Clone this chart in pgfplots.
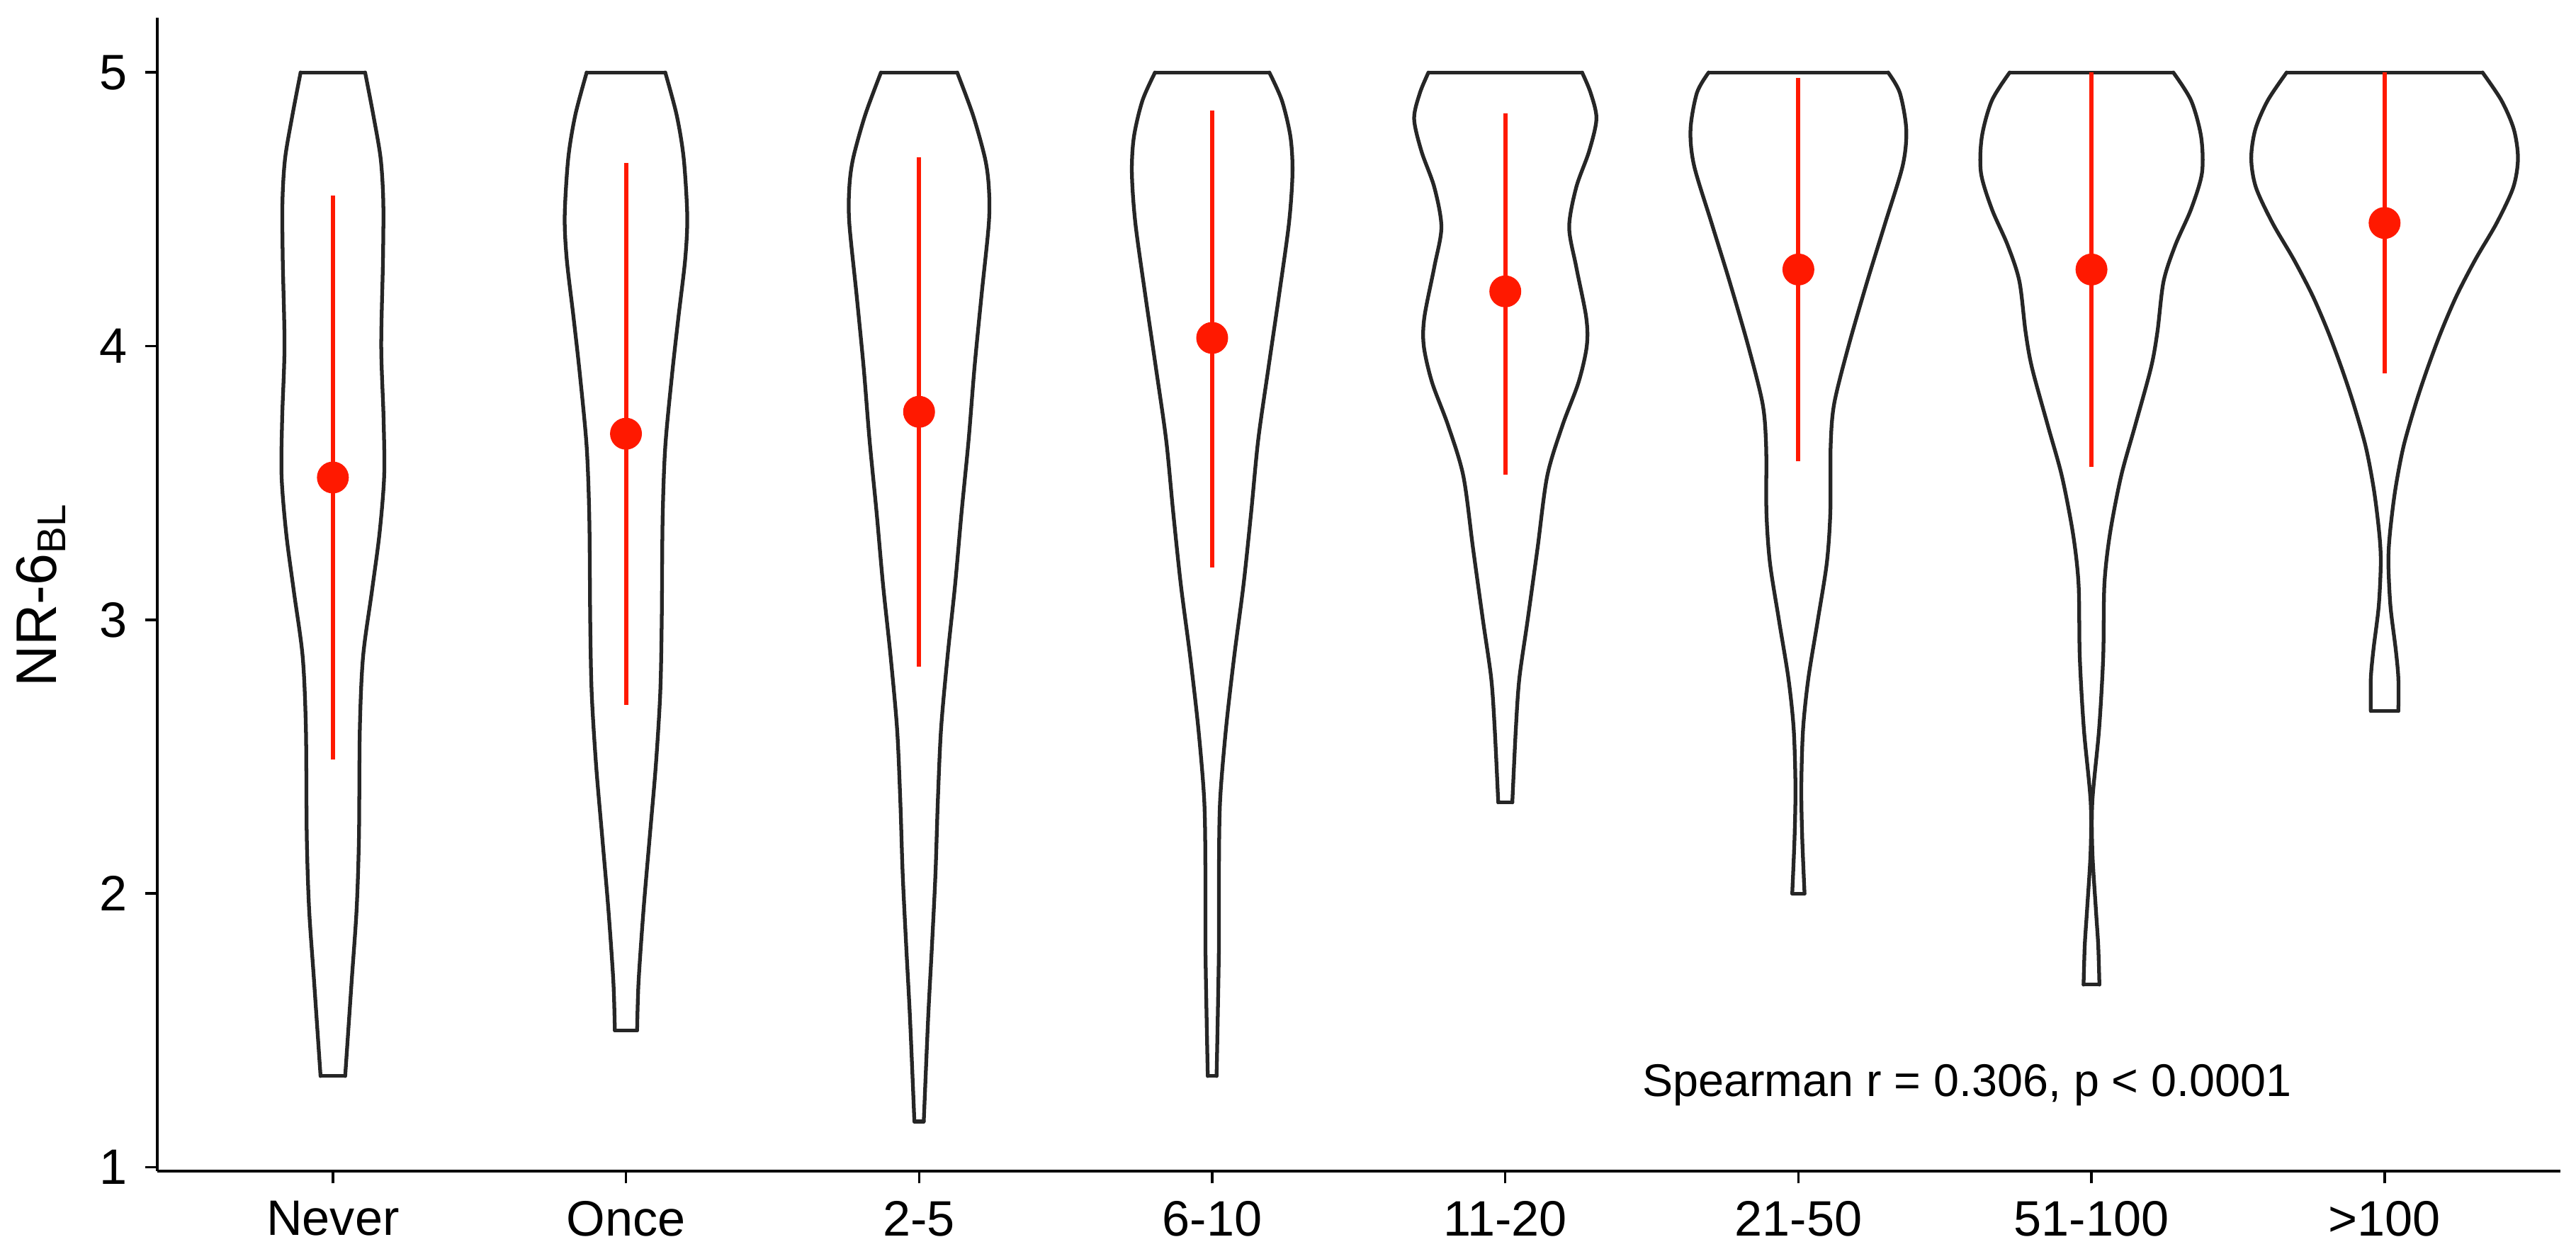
\documentclass[border=0pt]{standalone}
\usepackage{pgfplots}
\pgfplotsset{compat=1.18}
\usepackage{pgfplotstable}
\usepackage{fontspec}
\setmainfont{Liberation Sans}

\definecolor{meanred}{RGB}{255,25,0}

% violin outlines: right side bottom->top, then left side top->bottom, then back to start
\pgfplotstableread{
y dx
1.333 0.042
1.678 0.064
1.942 0.081
2.206 0.089
2.601 0.092
2.865 0.103
3.103 0.133
3.314 0.159
3.525 0.175
3.736 0.173
4.000 0.165
4.317 0.171
4.528 0.172
4.686 0.163
4.844 0.138
5.000 0.110
5.000 -0.110
4.844 -0.138
4.686 -0.163
4.528 -0.172
4.317 -0.171
4.000 -0.165
3.736 -0.173
3.525 -0.175
3.314 -0.159
3.103 -0.133
2.865 -0.103
2.601 -0.092
2.206 -0.089
1.942 -0.081
1.678 -0.064
1.333 -0.042
1.333 0.042
}\vA
\pgfplotstableread{
y dx
1.500 0.038
1.678 0.043
1.942 0.060
2.206 0.081
2.470 0.102
2.734 0.117
2.997 0.122
3.367 0.125
3.631 0.134
3.894 0.157
4.106 0.179
4.317 0.202
4.475 0.209
4.686 0.197
4.844 0.173
5.000 0.134
5.000 -0.134
4.844 -0.173
4.686 -0.197
4.475 -0.209
4.317 -0.202
4.106 -0.179
3.894 -0.157
3.631 -0.134
3.367 -0.125
2.997 -0.122
2.734 -0.117
2.470 -0.102
2.206 -0.081
1.942 -0.060
1.678 -0.043
1.500 -0.038
1.500 0.038
}\vB
\pgfplotstableread{
y dx
1.167 0.016
1.546 0.031
1.810 0.044
2.074 0.056
2.338 0.064
2.601 0.075
2.865 0.097
3.129 0.123
3.393 0.145
3.657 0.169
3.921 0.189
4.185 0.213
4.449 0.238
4.580 0.238
4.686 0.225
4.844 0.184
5.000 0.130
5.000 -0.130
4.844 -0.184
4.686 -0.225
4.580 -0.238
4.449 -0.238
4.185 -0.213
3.921 -0.189
3.657 -0.169
3.393 -0.145
3.129 -0.123
2.865 -0.097
2.601 -0.075
2.338 -0.064
2.074 -0.056
1.810 -0.044
1.546 -0.031
1.167 -0.016
1.167 0.016
}\vC
\pgfplotstableread{
y dx
1.333 0.015
1.546 0.019
1.810 0.023
2.074 0.023
2.338 0.027
2.601 0.047
2.865 0.075
3.129 0.107
3.393 0.133
3.657 0.157
3.921 0.192
4.185 0.228
4.449 0.262
4.633 0.274
4.765 0.267
4.897 0.238
5.000 0.195
5.000 -0.195
4.897 -0.238
4.765 -0.267
4.633 -0.274
4.449 -0.262
4.185 -0.228
3.921 -0.192
3.657 -0.157
3.393 -0.133
3.129 -0.107
2.865 -0.075
2.601 -0.047
2.338 -0.027
2.074 -0.023
1.810 -0.023
1.546 -0.019
1.333 -0.015
1.333 0.015
}\vD
\pgfplotstableread{
y dx
2.333 0.024
2.601 0.036
2.786 0.048
2.997 0.076
3.261 0.110
3.525 0.143
3.710 0.195
3.868 0.250
4.000 0.278
4.106 0.276
4.290 0.242
4.435 0.218
4.580 0.242
4.712 0.286
4.831 0.311
4.926 0.291
5.000 0.262
5.000 -0.262
4.926 -0.291
4.831 -0.311
4.712 -0.286
4.580 -0.242
4.435 -0.218
4.290 -0.242
4.106 -0.276
4.000 -0.278
3.868 -0.250
3.710 -0.195
3.525 -0.143
3.261 -0.110
2.997 -0.076
2.786 -0.048
2.601 -0.036
2.333 -0.024
2.333 0.024
}\vE
\pgfplotstableread{
y dx
2.000 0.021
2.206 0.013
2.391 0.010
2.601 0.016
2.786 0.034
2.997 0.066
3.208 0.097
3.393 0.109
3.631 0.110
3.789 0.122
4.000 0.171
4.237 0.235
4.449 0.296
4.660 0.356
4.792 0.368
4.926 0.346
5.000 0.306
5.000 -0.306
4.926 -0.346
4.792 -0.368
4.660 -0.356
4.449 -0.296
4.237 -0.235
4.000 -0.171
3.789 -0.122
3.631 -0.110
3.393 -0.109
3.208 -0.097
2.997 -0.066
2.786 -0.034
2.601 -0.016
2.391 -0.010
2.206 -0.013
2.000 -0.021
2.000 0.021
}\vF
\pgfplotstableread{
y dx
1.667 0.027
1.810 0.023
1.942 0.015
2.153 0.003
2.338 0.003
2.601 0.026
2.865 0.040
3.129 0.044
3.314 0.063
3.525 0.101
3.710 0.149
3.921 0.203
4.053 0.225
4.237 0.246
4.369 0.286
4.501 0.340
4.633 0.377
4.765 0.374
4.897 0.340
5.000 0.279
5.000 -0.279
4.897 -0.340
4.765 -0.374
4.633 -0.377
4.501 -0.340
4.369 -0.286
4.237 -0.246
4.053 -0.225
3.921 -0.203
3.710 -0.149
3.525 -0.101
3.314 -0.063
3.129 -0.044
2.865 -0.040
2.601 -0.026
2.338 -0.003
2.153 -0.003
1.942 -0.015
1.810 -0.023
1.667 -0.027
1.667 0.027
}\vG
\pgfplotstableread{
y dx
2.667 0.047
2.786 0.047
2.892 0.038
3.050 0.020
3.208 0.013
3.314 0.018
3.472 0.036
3.631 0.064
3.789 0.106
3.921 0.147
4.053 0.193
4.185 0.246
4.317 0.310
4.449 0.382
4.580 0.439
4.686 0.455
4.792 0.441
4.897 0.399
5.000 0.334
5.000 -0.334
4.897 -0.399
4.792 -0.441
4.686 -0.455
4.580 -0.439
4.449 -0.382
4.317 -0.310
4.185 -0.246
4.053 -0.193
3.921 -0.147
3.789 -0.106
3.631 -0.064
3.472 -0.036
3.314 -0.018
3.208 -0.013
3.050 -0.020
2.892 -0.038
2.786 -0.047
2.667 -0.047
2.667 0.047
}\vH

% mean and mean +/- sd
\pgfplotstableread{
x mean lo hi
1 3.52 2.49 4.55
2 3.68 2.69 4.67
3 3.76 2.83 4.69
4 4.03 3.19 4.86
5 4.20 3.53 4.85
6 4.28 3.58 4.98
7 4.28 3.56 5.00
8 4.45 3.90 5.00
}\means

% #1 centre, #2 table, #3 last right row, #4 first left row, #5 last left row, #6 closing row
\newcommand{\violin}[6]{%
  \addplot[vout, smooth, tension=0.5, restrict expr to domain={\coordindex}{0:#3}] table[x expr=#1+\thisrow{dx}, y=y] {#2};
  \addplot[vout, smooth, tension=0.5, restrict expr to domain={\coordindex}{#4:#5}] table[x expr=#1+\thisrow{dx}, y=y] {#2};
  \addplot[vout, restrict expr to domain={\coordindex}{#3:#4}] table[x expr=#1+\thisrow{dx}, y=y] {#2};
  \addplot[vout, restrict expr to domain={\coordindex}{#5:#6}] table[x expr=#1+\thisrow{dx}, y=y] {#2};
}

\begin{document}
\begin{tikzpicture}
\begin{axis}[
    scale only axis,
    width=16.97cm,
    height=8.145cm,
    xmin=0.4, xmax=8.6,
    ymin=0.985, ymax=5.2,
    axis x line*=bottom,
    axis y line*=left,
    axis line style={line width=0.6pt},
    xtick={1,...,8},
    xticklabels={Never,Once,2-5,6-10,11-20,21-50,51-100,>100},
    ytick={1,2,3,4,5},
    tick align=outside,
    major tick length=0.085cm,
    tick style={black, line width=0.5pt},
    ticklabel style={font=\fontsize{10}{12}\selectfont},
    /pgf/number format/assume math mode=true,
    ylabel={NR-6\textsubscript{BL}},
    ylabel style={font=\fontsize{11.5}{13}\selectfont},
    clip=false,
    unbounded coords=discard,
    vout/.style={black!85, line width=0.75pt, line join=round, line cap=round},
]
\violin{1}{\vA}{15}{16}{31}{32}
\violin{2}{\vB}{15}{16}{31}{32}
\violin{3}{\vC}{16}{17}{33}{34}
\violin{4}{\vD}{16}{17}{33}{34}
\violin{5}{\vE}{16}{17}{33}{34}
\violin{6}{\vF}{16}{17}{33}{34}
\violin{7}{\vG}{19}{20}{39}{40}
\violin{8}{\vH}{18}{19}{37}{38}

\addplot[only marks, mark=*, mark size=3pt, color=meanred,
    error bars/.cd, y dir=both, y explicit, error mark=none,
    error bar style={meanred, line width=0.85pt}]
    table[x=x, y=mean,
          y error plus expr=\thisrow{hi}-\thisrow{mean},
          y error minus expr=\thisrow{mean}-\thisrow{lo}] {\means};

\node[font=\fontsize{9.2}{11}\selectfont] at (axis cs:6.575,1.3) {Spearman r = 0.306, p < 0.0001};
\end{axis}
\path (current axis.south west) ++(-1.1cm,-0.58cm) coordinate (bbA);
\path (current axis.north east) ++(0.11cm,0.125cm) coordinate (bbB);
\useasboundingbox (bbA) rectangle (bbB);
\end{tikzpicture}
\end{document}
